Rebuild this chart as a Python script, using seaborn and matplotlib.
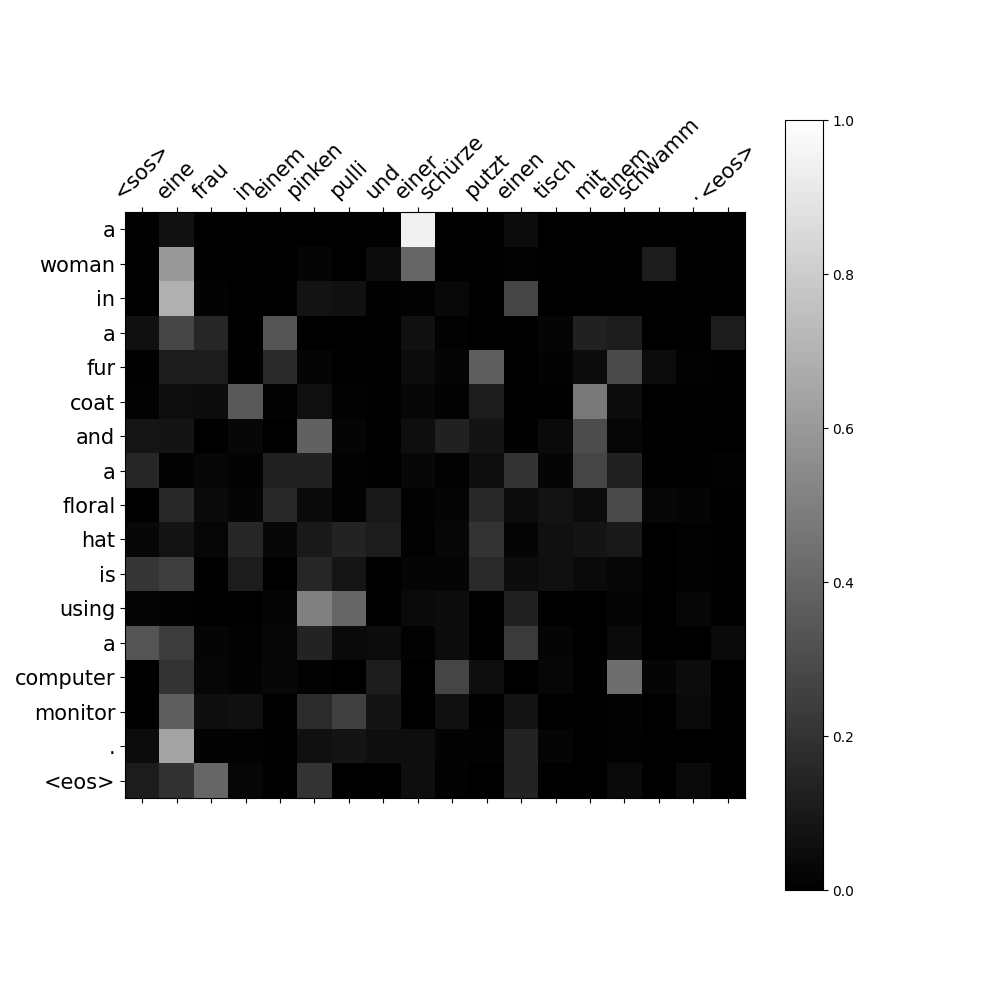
import matplotlib
matplotlib.use("Agg")
import matplotlib.pyplot as plt
import numpy as np
import seaborn as sns

# source (german) and translation tokens
src_tokens = ["<sos>", "eine", "frau", "in", "einem", "pinken", "pulli", "und", "einer",
              "schürze", "putzt", "einen", "tisch", "mit", "einem", "schwamm", ".", "<eos>"]
trg_tokens = ["a", "woman", "in", "a", "fur", "coat", "and", "a", "floral", "hat", "is",
              "using", "a", "computer", "monitor", ".", "<eos>"]

# attention weights, one row per translation token
attention = [
    [0.00, 0.07, 0.00, 0.00, 0.00, 0.00, 0.00, 0.00, 0.94, 0.00, 0.00, 0.05, 0.00, 0.00, 0.00, 0.00, 0.00, 0.00],
    [0.00, 0.60, 0.00, 0.00, 0.00, 0.02, 0.00, 0.05, 0.40, 0.00, 0.00, 0.01, 0.00, 0.00, 0.00, 0.11, 0.00, 0.00],
    [0.00, 0.69, 0.015, 0.00, 0.00, 0.075, 0.065, 0.00, 0.01, 0.035, 0.00, 0.27, 0.00, 0.00, 0.00, 0.00, 0.00, 0.00],
    [0.065, 0.27, 0.15, 0.00, 0.33, 0.00, 0.00, 0.00, 0.065, 0.01, 0.00, 0.00, 0.02, 0.13, 0.11, 0.00, 0.00, 0.11],
    [0.00, 0.11, 0.11, 0.00, 0.165, 0.02, 0.00, 0.00, 0.05, 0.02, 0.37, 0.00, 0.015, 0.05, 0.29, 0.05, 0.01, 0.00],
    [0.01, 0.055, 0.05, 0.35, 0.01, 0.06, 0.01, 0.00, 0.025, 0.01, 0.11, 0.00, 0.00, 0.47, 0.05, 0.00, 0.00, 0.00],
    [0.085, 0.08, 0.00, 0.03, 0.00, 0.38, 0.02, 0.00, 0.055, 0.13, 0.08, 0.00, 0.04, 0.30, 0.025, 0.00, 0.00, 0.00],
    [0.15, 0.015, 0.025, 0.015, 0.13, 0.13, 0.01, 0.00, 0.03, 0.01, 0.055, 0.20, 0.02, 0.27, 0.13, 0.00, 0.00, 0.01],
    [0.00, 0.16, 0.04, 0.02, 0.16, 0.04, 0.01, 0.095, 0.01, 0.02, 0.16, 0.05, 0.075, 0.05, 0.29, 0.03, 0.02, 0.00],
    [0.03, 0.075, 0.025, 0.15, 0.03, 0.10, 0.14, 0.11, 0.01, 0.03, 0.20, 0.02, 0.065, 0.08, 0.10, 0.00, 0.01, 0.00],
    [0.21, 0.245, 0.00, 0.11, 0.00, 0.15, 0.085, 0.00, 0.02, 0.02, 0.165, 0.05, 0.06, 0.04, 0.025, 0.00, 0.01, 0.00],
    [0.02, 0.01, 0.00, 0.00, 0.02, 0.50, 0.40, 0.00, 0.04, 0.05, 0.00, 0.13, 0.00, 0.00, 0.02, 0.00, 0.025, 0.00],
    [0.33, 0.235, 0.02, 0.01, 0.025, 0.14, 0.04, 0.05, 0.01, 0.05, 0.00, 0.23, 0.02, 0.00, 0.04, 0.00, 0.00, 0.04],
    [0.00, 0.20, 0.025, 0.015, 0.03, 0.01, 0.00, 0.11, 0.00, 0.27, 0.055, 0.00, 0.025, 0.00, 0.43, 0.02, 0.05, 0.00],
    [0.00, 0.37, 0.055, 0.065, 0.00, 0.17, 0.25, 0.08, 0.00, 0.065, 0.00, 0.075, 0.00, 0.00, 0.015, 0.00, 0.04, 0.00],
    [0.05, 0.64, 0.015, 0.01, 0.00, 0.065, 0.08, 0.055, 0.055, 0.015, 0.01, 0.14, 0.02, 0.00, 0.01, 0.00, 0.00, 0.00],
    [0.11, 0.195, 0.40, 0.025, 0.00, 0.20, 0.00, 0.00, 0.055, 0.01, 0.00, 0.14, 0.00, 0.00, 0.04, 0.00, 0.04, 0.00],
]

fig = plt.figure(figsize=(10, 10), dpi=100)
ax = fig.add_axes([0.125, 0.202, 0.62, 0.586])
cax = fig.add_axes([0.785, 0.11, 0.0375, 0.77])

sns.heatmap(np.array(attention), cmap="gray", vmin=0, vmax=1, ax=ax, cbar_ax=cax,
            xticklabels=src_tokens, yticklabels=trg_tokens, square=True)

# matshow-like ticks: labels on top, ticks on both sides
ax.tick_params(axis="x", top=True, bottom=True, labeltop=True, labelbottom=False,
               labelsize=15, length=3.5)
ax.tick_params(axis="y", labelsize=15, length=3.5)
plt.setp(ax.get_xticklabels(), rotation=45, ha="center", va="bottom")
plt.setp(ax.get_yticklabels(), rotation=0, va="center_baseline")
for spine in ax.spines.values():
    spine.set_visible(True)
    spine.set_linewidth(0.8)

# colorbar outline and ticks
cbar = ax.collections[0].colorbar
cbar.outline.set_visible(True)
cbar.outline.set_linewidth(0.8)
cbar.set_ticks([0.0, 0.2, 0.4, 0.6, 0.8, 1.0])
cbar.ax.tick_params(labelsize=10, length=3.5)

fig.savefig("out.png", dpi=100)
